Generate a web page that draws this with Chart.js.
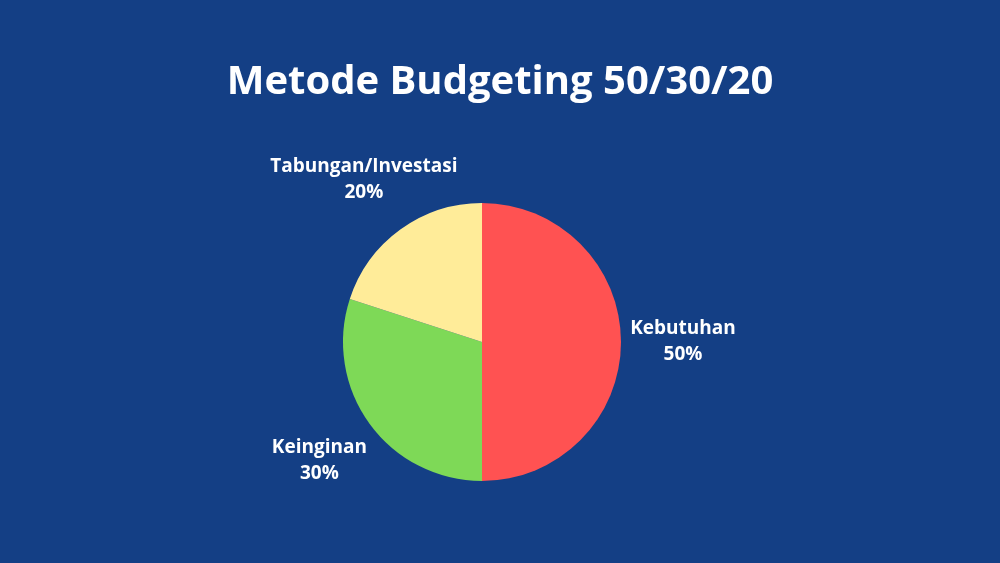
<!DOCTYPE html>
<html><head><meta charset="utf-8">
<script src="https://cdn.jsdelivr.net/npm/chart.js@4"></script>
<style>html,body{margin:0;padding:0;background:#143F85;}#w{width:1000px;height:563px;}</style>
</head><body><div id="w"><canvas id="c"></canvas></div>
<script>
const titleText = "Metode Budgeting 50/30/20";
const categories = ["Kebutuhan", "Keinginan", "Tabungan/Investasi"];
const values = [50, 30, 20];
const colors = ["#FF5252", "#7ED957", "#FFEC99"];

const labelPlugin = {
  id: 'lbl',
  afterDraw(chart) {
    const ctx = chart.ctx;
    ctx.save();
    ctx.fillStyle = '#fff';
    ctx.textAlign = 'center';
    ctx.textBaseline = 'middle';
    ctx.font = 'bold 40px "Open Sans", Lato, sans-serif';
    ctx.fillText(titleText, 500, 83);
    ctx.font = 'bold 19px "Open Sans", Lato, sans-serif';
    const meta = chart.getDatasetMeta(0);
    meta.data.forEach((arc, i) => {
      const a = (arc.startAngle + arc.endAngle) / 2;
      const r = arc.outerRadius + 62;
      const x = arc.x + Math.cos(a) * r, y = arc.y + Math.sin(a) * r;
      ctx.fillText(categories[i], x, y - 13);
      ctx.fillText(values[i] + '%', x, y + 13);
    });
    ctx.restore();
  }
};

new Chart(document.getElementById('c'), {
  type: 'pie',
  data: { labels: categories, datasets: [{ data: values, backgroundColor: colors, borderWidth: 0 }] },
  options: {
    responsive: true, maintainAspectRatio: false, animation: false,
    layout: { padding: { top: 203, bottom: 82, left: 343, right: 379 } },
    plugins: { legend: { display: false }, tooltip: { enabled: false } }
  },
  plugins: [labelPlugin]
});
</script></body></html>
